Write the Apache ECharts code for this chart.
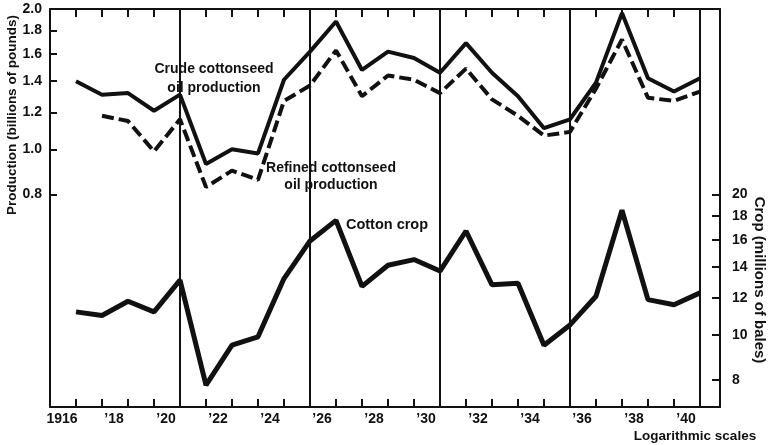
<!DOCTYPE html>
<html>
<head>
<meta charset="utf-8">
<script src="https://cdn.jsdelivr.net/npm/echarts@6/dist/echarts.min.js"></script>
<style>
  html, body { margin: 0; padding: 0; background: #fff; }
  #chart { width: 770px; height: 445px; }
</style>
</head>
<body>
<div id="chart"></div>
<script>
// values (ratio chart, both scales logarithmic)
var years = [1916, 1917, 1918, 1919, 1920, 1921, 1922, 1923, 1924, 1925, 1926, 1927, 1928,
  1929, 1930, 1931, 1932, 1933, 1934, 1935, 1936, 1937, 1938, 1939, 1940]
// billions of pounds
var crude = [1.40, 1.31, 1.32, 1.21, 1.31, 0.93, 1.00, 0.98, 1.41, 1.62, 1.88, 1.48, 1.62,
  1.57, 1.46, 1.69, 1.46, 1.30, 1.11, 1.16, 1.39, 1.96, 1.42, 1.33, 1.42]
var refined = [null, 1.18, 1.15, 0.99, 1.16, 0.83, 0.90, 0.86, 1.27, 1.37, 1.63, 1.30, 1.44,
  1.41, 1.32, 1.49, 1.28, 1.18, 1.07, 1.09, 1.35, 1.72, 1.29, 1.27, 1.33]
// millions of bales
var cotton = [11.2, 11.0, 11.8, 11.2, 13.1, 7.8, 9.5, 9.9, 13.2, 15.9, 17.6, 12.7, 14.1,
  14.5, 13.7, 16.7, 12.8, 12.9, 9.5, 10.5, 12.1, 18.5, 11.9, 11.6, 12.3]

var prodTicks = [0.8, 1.0, 1.2, 1.4, 1.6, 1.8, 2.0]
var cropTicks = [8, 10, 12, 14, 16, 18, 20]
var labelYears = [1916, 1918, 1920, 1922, 1924, 1926, 1928, 1930, 1932, 1934, 1936, 1938, 1940]
var labelText = ['1916', '\u201918', '\u201920', '\u201922', '\u201924', '\u201926', '\u201928',
  '\u201930', '\u201932', '\u201934', '\u201936', '\u201938', '\u201940']
var dividerYears = [1920, 1925, 1930, 1935, 1940]

var FONT = '"Liberation Sans", Arial, sans-serif'
var black = '#111'

function pairs (vals) {
  var out = []
  years.forEach(function (y, i) {
    if (vals[i] != null) out.push([y, vals[i]])
  })
  return out
}

var axisLine = { show: true, lineStyle: { color: black, width: 2 } }
var tickStyle = { color: black, width: 2 }

var chart = echarts.init(document.getElementById('chart'))
chart.setOption({
  animation: false,
  backgroundColor: '#fff',
  grid: { left: 50, right: 50, top: 9, bottom: 38 },
  xAxis: [
    {
      type: 'value',
      min: 1915,
      max: 1940.77,
      interval: 1,
      axisLine: axisLine,
      axisTick: { inside: true, length: 8, customValues: years, lineStyle: tickStyle },
      axisLabel: {
        customValues: labelYears,
        formatter: function (v) { return labelText[labelYears.indexOf(Math.round(v))] || '' },
        margin: 5,
        padding: [0, 28, 0, 0],
        color: black,
        fontFamily: FONT,
        fontWeight: 'bold',
        fontSize: 14
      },
      splitLine: { show: false }
    },
    {
      type: 'value',
      position: 'top',
      min: 1915,
      max: 1940.77,
      interval: 1,
      axisLine: axisLine,
      axisTick: { inside: true, length: 8, customValues: years, lineStyle: tickStyle },
      axisLabel: { show: false },
      splitLine: { show: false }
    }
  ],
  yAxis: [
    {
      type: 'log',
      logBase: 10,
      min: 0.28,
      max: 2.0,
      axisLine: axisLine,
      axisTick: { show: true, inside: true, length: 7, customValues: prodTicks, lineStyle: tickStyle },
      axisLabel: {
        customValues: prodTicks,
        formatter: function (v) { return (+v).toFixed(1) },
        margin: 8,
        color: black,
        fontFamily: FONT,
        fontWeight: 'bold',
        fontSize: 14
      },
      splitLine: { show: false },
      minorTick: { show: false }
    },
    {
      type: 'log',
      logBase: 10,
      min: 7,
      max: 50,
      position: 'right',
      axisLine: axisLine,
      axisTick: { show: true, inside: true, length: 8, customValues: cropTicks, lineStyle: tickStyle },
      axisLabel: {
        customValues: cropTicks,
        formatter: function (v) { return String(Math.round(v)) },
        margin: 12,
        color: black,
        fontFamily: FONT,
        fontWeight: 'bold',
        fontSize: 14
      },
      splitLine: { show: false }
    }
  ],
  series: [
    {
      name: 'Crude cottonseed oil production',
      type: 'line',
      xAxisIndex: 0,
      yAxisIndex: 0,
      data: pairs(crude),
      symbol: 'none',
      lineStyle: { color: black, width: 4 },
      markLine: {
        silent: true,
        symbol: ['none', 'none'],
        label: { show: false },
        lineStyle: { color: black, width: 2, type: 'solid' },
        data: dividerYears.map(function (y) { return { xAxis: y } })
      }
    },
    {
      name: 'Refined cottonseed oil production',
      type: 'line',
      xAxisIndex: 0,
      yAxisIndex: 0,
      data: pairs(refined),
      symbol: 'none',
      lineStyle: { color: black, width: 4, type: [12, 5] }
    },
    {
      name: 'Cotton crop',
      type: 'line',
      xAxisIndex: 0,
      yAxisIndex: 1,
      data: pairs(cotton),
      symbol: 'none',
      lineStyle: { color: black, width: 5 }
    }
  ],
  graphic: [
    {
      type: 'text', x: 214, y: 79,
      style: {
        text: 'Crude cottonseed\noil production', align: 'center', verticalAlign: 'middle',
        lineHeight: 19, fill: black, font: 'bold 14px ' + FONT
      }
    },
    {
      type: 'text', x: 331, y: 177,
      style: {
        text: 'Refined cottonseed\noil production', align: 'center', verticalAlign: 'middle',
        lineHeight: 17, fill: black, font: 'bold 14px ' + FONT
      }
    },
    {
      type: 'text', x: 387, y: 225,
      style: { text: 'Cotton crop', align: 'center', verticalAlign: 'middle', fill: black, font: 'bold 14.5px ' + FONT }
    },
    {
      type: 'text', x: 12, y: 115, rotation: Math.PI / 2,
      style: {
        text: 'Production (billions of pounds)', align: 'center', verticalAlign: 'middle',
        fill: black, font: 'bold 13.5px ' + FONT
      }
    },
    {
      type: 'text', x: 759, y: 280, rotation: -Math.PI / 2,
      style: {
        text: 'Crop (millions of bales)', align: 'center', verticalAlign: 'middle',
        fill: black, font: 'bold 15px ' + FONT
      }
    },
    {
      type: 'text', x: 695, y: 436,
      style: { text: 'Logarithmic scales', align: 'center', verticalAlign: 'middle', fill: black, font: 'bold 13.5px ' + FONT }
    }
  ]
})
</script>
</body>
</html>
